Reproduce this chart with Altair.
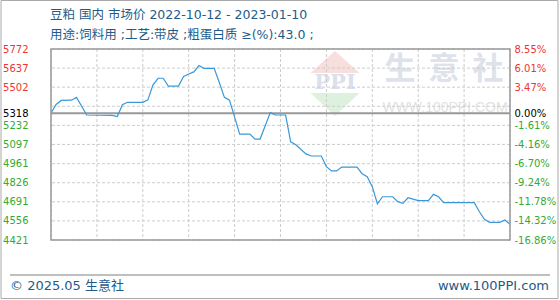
import altair as alt
import pandas as pd

# ---------------- data ----------------
DATES = [
    "2022-10-12", "2022-10-13", "2022-10-14", "2022-10-16", "2022-10-17", "2022-10-19",
    "2022-10-24", "2022-10-25", "2022-10-26", "2022-10-27", "2022-10-30", "2022-10-31",
    "2022-11-01", "2022-11-02", "2022-11-03", "2022-11-04", "2022-11-06", "2022-11-07",
    "2022-11-08", "2022-11-09", "2022-11-10", "2022-11-11", "2022-11-13", "2022-11-14",
    "2022-11-15", "2022-11-16", "2022-11-18", "2022-11-20", "2022-11-21", "2022-11-22",
    "2022-11-24", "2022-11-25", "2022-11-27", "2022-11-28", "2022-11-29", "2022-12-01",
    "2022-12-02", "2022-12-04", "2022-12-05", "2022-12-06", "2022-12-07", "2022-12-08",
    "2022-12-11", "2022-12-12", "2022-12-13", "2022-12-14", "2022-12-15", "2022-12-16",
    "2022-12-18", "2022-12-19", "2022-12-20", "2022-12-21", "2022-12-22", "2022-12-23",
    "2022-12-25", "2022-12-26", "2022-12-27", "2022-12-28", "2023-01-03", "2023-01-04",
    "2023-01-05", "2023-01-06", "2023-01-08", "2023-01-09", "2023-01-10",
]
PRICES = [
    5318, 5380, 5408, 5410, 5430, 5305,
    5303, 5294, 5378, 5395, 5395, 5412,
    5518, 5565, 5565, 5510, 5510, 5578,
    5595, 5610, 5655, 5635, 5635, 5535,
    5430, 5410, 5170, 5170, 5135, 5135,
    5322, 5305, 5305, 5115, 5095, 5030,
    5015, 5015, 4940, 4910, 4910, 4937,
    4937, 4890, 4869, 4798, 4676, 4727,
    4727, 4692, 4680, 4720, 4710, 4699,
    4699, 4744, 4727, 4685, 4685, 4621,
    4567, 4546, 4546, 4562, 4532,
]
BASE = 5318
Y_TICKS = [5772, 5637, 5502, 5318, 5232, 5097, 4961, 4826, 4691, 4556, 4421]
PCT_LABELS = ["8.55%", "6.01%", "3.47%", "0.00%", "-1.61%", "-4.16%",
              "-6.70%", "-9.24%", "-11.78%", "-14.32%", "-16.86%"]
GRID_VALUES = [5772, 5637, 5502, 5367, 5232, 5097, 4961, 4826, 4691, 4556, 4421]
X_TICKS = ["2022-10-12", "2022-10-21", "2022-10-30", "2022-11-08", "2022-11-17",
           "2022-11-26", "2022-12-05", "2022-12-14", "2022-12-23", "2023-01-01",
           "2023-01-10"]
TITLE_1 = "豆粕 国内 市场价 2022-10-12 - 2023-01-10"
TITLE_2 = "用途:饲料用 ;工艺:带皮 ;粗蛋白质 ≥(%):43.0 ;"
FOOTER_L = "© 2025.05 生意社"
FOOTER_R = "www.100PPI.com"
WM_CHARS = ["生", "意", "社"]
WM_URL = "WWW.100PPI.COM"
WM_PPI = "PPI"

# ---------------- styling ----------------
W, H = 459, 191
BLUE_TXT = "#1e5b8a"
RED = "#ee3333"
GREEN = "#33aa33"
LINE = "#3a98d8"
FONT = "DejaVu Sans"
TFONT = "'DejaVu Sans', 'Noto Sans CJK SC'"


def ms(s):
    return int(pd.Timestamp(s, tz="UTC").value // 10**6)


df = pd.DataFrame({"date": DATES, "price": PRICES})
xscale = alt.Scale(type="utc", domain=[ms(DATES[0]), ms(DATES[-1])])
yscale = alt.Scale(domain=[min(Y_TICKS), max(Y_TICKS)], zero=False, nice=False)

one = pd.DataFrame({"k": [0]})

# watermark
tri_up = alt.Chart(one).mark_point(
    shape="M0,-0.449L1,0.449L-1,0.449Z", filled=True, fill="#f9dede", opacity=1, strokeWidth=0
).encode(x=alt.value(284), y=alt.value(13), size=alt.value(2401))
tri_dn = alt.Chart(one).mark_point(
    shape="M-1,-0.469L1,-0.469L0,0.469Z", filled=True, fill="#def1de", opacity=1, strokeWidth=0
).encode(x=alt.value(284), y=alt.value(55.5), size=alt.value(2401))
ppi = alt.Chart(pd.DataFrame({"t": [WM_PPI]})).mark_text(
    font="DejaVu Serif", fontWeight="bold", fontSize=21, color="#dbe0ec",
    align="center", baseline="middle"
).encode(x=alt.value(284), y=alt.value(34), text="t:N")
wm_layers = []
for i, ch in enumerate(WM_CHARS):
    wm_layers.append(
        alt.Chart(pd.DataFrame({"t": [ch]})).mark_text(
            font="Noto Sans CJK SC", fontWeight="bold", fontSize=31, color="#dde2eb",
            align="center", baseline="middle"
        ).encode(x=alt.value(349 + 44 * i), y=alt.value(21), text="t:N")
    )
wm_url = alt.Chart(pd.DataFrame({"t": [WM_URL]})).mark_text(
    font="Liberation Sans", fontSize=14, color="#e2e2e2", align="center", baseline="middle"
).encode(x=alt.value(394), y=alt.value(59), text="t:N")

# grid
hgrid = alt.Chart(pd.DataFrame({"v": GRID_VALUES})).mark_rule(
    color="#cccccc", strokeWidth=1, strokeDash=[3, 2]
).encode(y=alt.Y("v:Q", scale=yscale, axis=None))
vgrid = alt.Chart(pd.DataFrame({"d": X_TICKS})).mark_rule(
    color="#cccccc", strokeWidth=1, strokeDash=[3, 2]
).encode(x=alt.X("d:T", scale=xscale, axis=None))
base = alt.Chart(pd.DataFrame({"v": [BASE]})).mark_rule(
    color="#999999", strokeWidth=2
).encode(y=alt.Y("v:Q", scale=yscale, axis=None))

label_color = {
    "condition": [
        {"test": f"datum.value > {BASE}", "value": RED},
        {"test": f"datum.value == {BASE}", "value": "#000000"},
    ],
    "value": GREEN,
}

x_axis = alt.Axis(
    values=[ms(d) for d in X_TICKS], labelExpr="utcFormat(datum.value, '%m/%d')",
    grid=False, ticks=False, tickSize=0, domain=False, labelColor=BLUE_TXT,
    labelFont=FONT, labelFontSize=10, labelPadding=11, labelOverlap=False,
    labelFlush=False, title=None,
)

line = alt.Chart(df).mark_line(color=LINE, strokeWidth=1.2).encode(
    x=alt.X("date:T", scale=xscale, axis=x_axis),
    y=alt.Y("price:Q", scale=yscale, axis=alt.Axis(
        orient="left", values=Y_TICKS, format="d", grid=False, ticks=False, tickSize=0,
        domain=False, labelColor=label_color, labelFont=FONT, labelFontSize=10,
        labelPadding=23, labelOverlap=False, labelFlush=False, labelBaseline="middle",
        title=None,
    )),
)

ticks_js = "[" + ",".join(str(v) for v in Y_TICKS) + "]"
pct_js = "[" + ",".join(f"'{s}'" for s in PCT_LABELS) + "]"
ghost = alt.Chart(df).mark_line(opacity=0).encode(
    x=alt.X("date:T", scale=xscale, axis=None),
    y=alt.Y("price:Q", scale=yscale, axis=alt.Axis(
        orient="right", values=Y_TICKS, grid=False, ticks=False, tickSize=0,
        domain=False, labelColor=label_color, labelFont=FONT, labelFontSize=10,
        labelPadding=4, labelOverlap=False, labelFlush=False, labelBaseline="middle",
        labelExpr=f"{pct_js}[indexof({ticks_js}, datum.value)]", title=None,
    )),
)

frame = alt.Chart(one).mark_rect(filled=False, stroke="#999999", strokeWidth=1.5).encode(
    x=alt.value(0), x2=alt.value(W), y=alt.value(0), y2=alt.value(H)
)
outer = alt.Chart(one).mark_rect(filled=False, stroke="#aaaaaa", strokeWidth=1).encode(
    x=alt.value(-50), x2=alt.value(507), y=alt.value(-48.5), y2=alt.value(249.5)
)
sep = alt.Chart(one).mark_rule(color="#aaaaaa", strokeWidth=1.5).encode(
    x=alt.value(-41), x2=alt.value(499), y=alt.value(226)
)


def txt(s, x, y, size, align="left", color=BLUE_TXT, font=TFONT):
    return alt.Chart(pd.DataFrame({"t": [s]})).mark_text(
        font=font, fontSize=size, color=color, align=align, baseline="middle"
    ).encode(x=alt.value(x), y=alt.value(y), text="t:N")


t1 = txt(TITLE_1, -1, -34, 12.5)
t2 = txt(TITLE_2, -1, -14, 12.5)
f1 = txt(FOOTER_L, -41, 237, 13)
f2 = txt(FOOTER_R, 498, 237, 13, align="right")

chart = alt.layer(
    tri_up, tri_dn, ppi, *wm_layers, wm_url,
    hgrid, vgrid, base, line, ghost, frame, outer, sep, t1, t2, f1, f2,
).resolve_axis(y="independent").properties(
    width=W, height=H,
    autosize=alt.AutoSizeParams(type="none"),
    padding={"left": 51, "top": 49, "right": 50, "bottom": 60},
    background="white",
).configure_view(strokeWidth=0)

chart.save("out.html", embed_options={"renderer": "svg", "actions": False})
